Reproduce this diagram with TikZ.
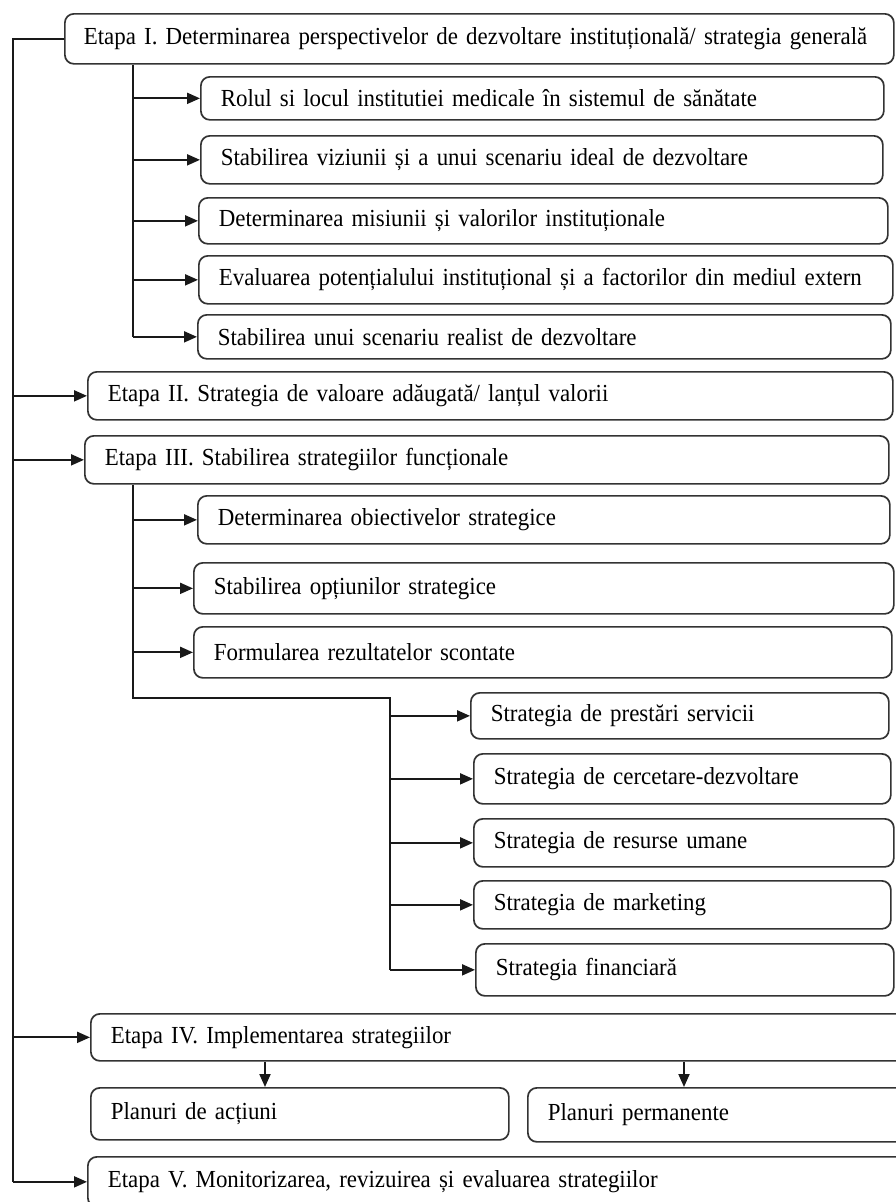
\documentclass[tikz,border=0pt]{standalone}
\usepackage{fontspec}
\setmainfont{Liberation Serif}[FakeStretch=0.935]
\usetikzlibrary{arrows.meta}

\begin{document}
\begin{tikzpicture}[x=1pt, y=-1pt,
		ln/.style = {line width=2pt, draw=black!90},
		arr/.style = {ln, -{Triangle[length=13pt, width=11pt]}},
		box/.style = {draw=black!80, line width=1.7pt, rounded corners=9pt,
			anchor=north west, align=left, inner xsep=20pt, inner ysep=0pt,
			font=\fontsize{24.5}{29}\selectfont,
			execute at begin node=\hbox\bgroup, execute at end node=\egroup}]
	\useasboundingbox (0,0) rectangle (895,1202);
	
	\coordinate (sp) at (13,35);
	\coordinate (c1) at (133,0);
	\coordinate (k) at (390,698);
	
	% etapele
	\node[box, inner xsep=19pt, text width=791pt, minimum height=50pt] (e1) at (64,13) {Etapa I. Determinarea perspectivelor de dezvoltare instituțională/ strategia generală};
	\node[box, text width=765pt, minimum height=48pt] (e2) at (87,371) {Etapa II. Strategia de valoare adăugată/ lanțul valorii};
	\node[box, text width=764pt, minimum height=48pt] (e3) at (84,435) {Etapa III. Stabilirea strategiilor funcționale};
	\node[box, text width=780pt, minimum height=47pt] (e4) at (90,1013) {Etapa IV. Implementarea strategiilor};
	\node[box, text width=783pt, minimum height=50pt] (e5) at (87,1156) {Etapa V. Monitorizarea, revizuirea și evaluarea strategiilor};
	
	% etapa I
	\node[box, text width=643pt, minimum height=43pt] (r1) at (200,76) {Rolul si locul institutiei medicale în sistemul de sănătate};
	\node[box, text width=642pt, minimum height=48pt] (r2) at (200,135) {Stabilirea viziunii și a unui scenariu ideal de dezvoltare};
	\node[box, text width=649pt, minimum height=46pt] (r3) at (198,197) {Determinarea misiunii și valorilor instituționale};
	\node[box, text width=654pt, minimum height=48pt] (r4) at (198,255) {Evaluarea potențialului instituțional și a factorilor din mediul extern};
	\node[box, text width=653pt, minimum height=44pt] (r5) at (197,314) {Stabilirea unui scenariu realist de dezvoltare};
	
	% etapa III
	\node[box, text width=652pt, minimum height=48pt] (o1) at (197,495) {Determinarea obiectivelor strategice};
	\node[box, text width=660pt, minimum height=51pt] (o2) at (193,562) {Stabilirea opțiunilor strategice};
	\node[box, text width=658pt, minimum height=51pt] (o3) at (193,626) {Formularea rezultatelor scontate};
	
	\node[box, text width=378pt, minimum height=46pt] (s1) at (470,692) {Strategia de prestări servicii};
	\node[box, text width=377pt, minimum height=50pt] (s2) at (473,753) {Strategia de cercetare-dezvoltare};
	\node[box, text width=380pt, minimum height=48pt] (s3) at (473,818) {Strategia de resurse umane};
	\node[box, text width=377pt, minimum height=48pt] (s4) at (473,880) {Strategia de marketing};
	\node[box, text width=378pt, minimum height=52pt] (s5) at (475,943) {Strategia financiară};
	
	% etapa IV
	\node[box, text width=378pt, minimum height=52pt] (pa) at (90,1087) {Planuri de acțiuni};
	\node[box, text width=343pt, minimum height=54pt] (pp) at (527,1087) {Planuri permanente};
	
	% conexiuni
	\draw[ln] (e1.west) -| (sp |- e5.west);
	\foreach \n in {e2,e3,e4,e5}
		\draw[arr] (sp |- \n.west) -- (\n.west);
	
	\draw[ln] (e1.south -| c1) -- (c1 |- r5.west);
	\foreach \n in {r1,r2,r3,r4,r5}
		\draw[arr] (c1 |- \n.west) -- (\n.west);
	
	\draw[ln] (e3.south -| c1) |- (k) -- (k |- s5.west);
	\foreach \n in {o1,o2,o3}
		\draw[arr] (c1 |- \n.west) -- (\n.west);
	\foreach \n in {s1,s2,s3,s4,s5}
		\draw[arr] (k |- \n.west) -- (\n.west);
	
	\coordinate (d1) at ([xshift=175pt]pa.north west);
	\coordinate (d2) at ([xshift=157pt]pp.north west);
	\draw[arr] (e4.south -| d1) -- (d1);
	\draw[arr] (e4.south -| d2) -- (d2);
\end{tikzpicture}
\end{document}
